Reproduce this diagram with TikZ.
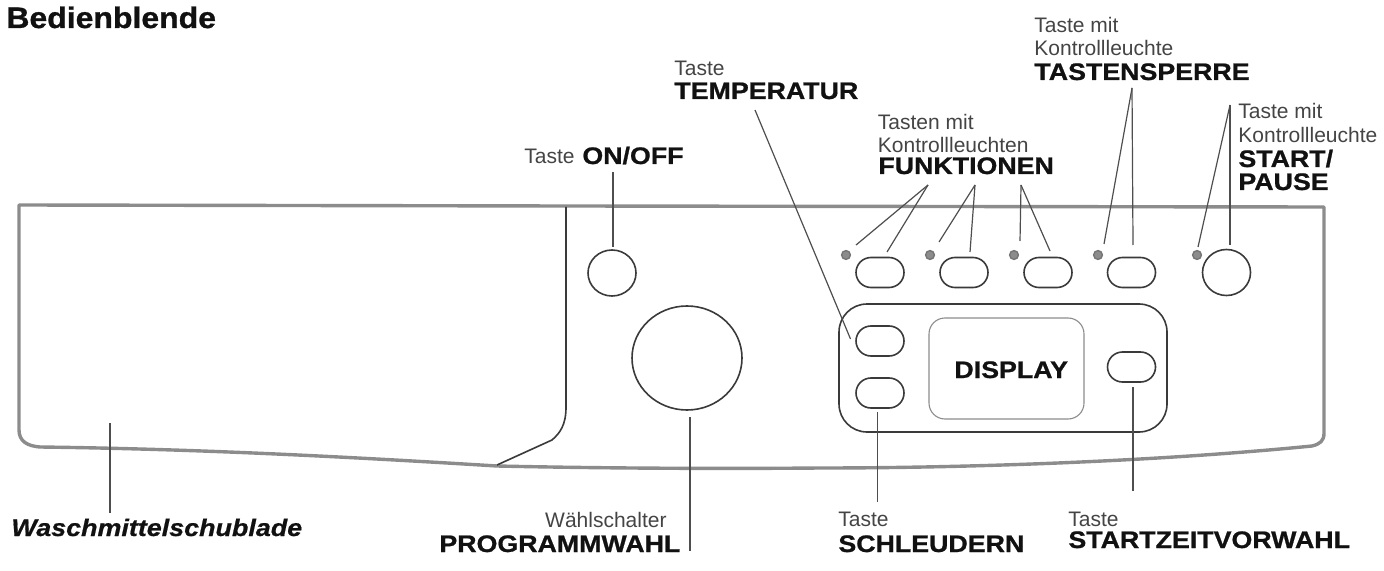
\documentclass[tikz,border=0pt]{standalone}
\usepackage{fontspec}
\usetikzlibrary{shapes.geometric,shapes.misc}
\setmainfont{Liberation Sans}
\newfontfamily\heavyfont[FakeStretch=1.12,FakeBold=0.9]{Liberation Sans Bold}
\newfontfamily\titlefont[FakeStretch=1.08,FakeBold=0.9]{Liberation Sans Bold}
\newfontfamily\heavyitfont[FakeStretch=1.12,FakeBold=0.7]{Liberation Sans Bold Italic}
\definecolor{framegray}{HTML}{8C8C8C}
\definecolor{linedark}{HTML}{3A3A3A}
\definecolor{textlight}{HTML}{444444}
\definecolor{textdark}{HTML}{111111}
\tikzset{
  frameline/.style={draw=framegray,line width=1.7pt,line join=round},
  leader/.style={draw=linedark!90,line width=0.6pt},
  oval/.style={rounded rectangle,draw=linedark,line width=0.8pt,inner sep=0pt,minimum width=24pt,minimum height=15pt},
  knob/.style={ellipse,draw=linedark,line width=0.8pt,inner sep=0pt},
  lamp/.style={circle,draw=linedark!70,fill=framegray,line width=0.7pt,inner sep=0pt,minimum size=4.4pt},
  thin label/.style={anchor=base west,inner sep=0pt,text=textlight,font=\fontsize{10.5}{12}\selectfont},
  heavy label/.style={anchor=base west,inner sep=0pt,text=textdark,font=\heavyfont\fontsize{11.95}{14}\selectfont},
}
\begin{document}
\begin{tikzpicture}[x=0.5pt,y=-0.5pt]
\useasboundingbox (0,0) rectangle (1384,571);
% housing
\draw[frameline] (19,205) -- (566,206) -- (1324,207)
  -- (1324,433) .. controls (1324,441) and (1320,444) .. (1312,446)
  .. controls (1150,462) and (960,468) .. (820,468)
  .. controls (700,469) and (590,468) .. (497,466)
  .. controls (350,457) and (200,449) .. (40,447)
  .. controls (27,446) and (19,441) .. (19,430) -- cycle;
\draw[draw=linedark,line width=0.8pt] (566,207) -- (566,407)
  .. controls (566,425) and (560,433) .. (552,440) -- (497,465);
% controls
\node[knob,minimum width=24pt,minimum height=23pt] (onoff) at (612,273) {};
\node[knob,minimum width=55pt,minimum height=52pt] (prog) at (687,358) {};
\node[oval] (f1) at (880,272.5) {};
\node[oval] (f2) at (964,272.5) {};
\node[oval] (f3) at (1048,272.5) {};
\node[oval] (lock) at (1131.5,272.5) {};
\node[knob,minimum width=24pt,minimum height=23pt] (start) at (1226.5,272.5) {};
\node[lamp] (l1) at (846,255) {};
\node[lamp] (l2) at (930,255) {};
\node[lamp] (l3) at (1014,255) {};
\node[lamp] (l4) at (1098,255) {};
\node[lamp] (l5) at (1197,255) {};
\draw[draw=linedark,line width=0.8pt,rounded corners=14pt] (839,304) rectangle (1167,432);
\draw[draw=framegray,line width=0.55pt,rounded corners=8pt] (929,318) rectangle (1084,419);
\node[oval] (temp) at (880,341) {};
\node[oval] (spin) at (880,393) {};
\node[oval] (delay) at (1131.5,367) {};
% labels
\node[anchor=base west,inner sep=0pt,text=textdark,font=\titlefont\fontsize{14.8}{17}\selectfont] (title) at (6,28) {Bedienblende};
\node[thin label] (t1) at (674,76) {Taste};
\node[heavy label] (t2) at (674,99) {TEMPERATUR};
\node[thin label] (t3) at (524,164) {Taste};
\node[heavy label] (t4) at (582,164) {ON/OFF};
\node[thin label] (t5) at (877.5,130) {Tasten mit};
\node[thin label] (t6) at (877.5,153) {Kontrollleuchten};
\node[heavy label] (t7) at (878,174) {FUNKTIONEN};
\node[thin label] (t8) at (1034,33) {Taste mit};
\node[thin label] (t9) at (1034,56) {Kontrollleuchte};
\node[heavy label] (t10) at (1034,80) {TASTENSPERRE};
\node[thin label] (t11) at (1238,119) {Taste mit};
\node[thin label] (t12) at (1238,143) {Kontrollleuchte};
\node[heavy label] (t13) at (1238,167) {START/};
\node[heavy label] (t14) at (1238,190) {PAUSE};
\node[thin label] (t15) at (838,526) {Taste};
\node[heavy label] (t16) at (838,552) {SCHLEUDERN};
\node[thin label] (t17) at (1068,526) {Taste};
\node[heavy label] (t18) at (1068,548) {STARTZEITVORWAHL};
\node[heavy label] (t19) at (954,378) {DISPLAY};
\node[thin label,anchor=base east] (t20) at (667,527) {Wählschalter};
\node[heavy label] (t21) at (439,552) {PROGRAMMWAHL};
\node[anchor=base west,inner sep=0pt,text=textdark,font=\heavyitfont\fontsize{12}{14}\selectfont] (t22) at (11,536) {Waschmittelschublade};
% leader ends
\coordinate (aF1) at (928,185); \coordinate (aF2) at (975,185); \coordinate (aF3) at (1021,185);
\coordinate (aLock) at (1132,88); \coordinate (aStart) at (1230,105); \coordinate (aTemp) at (755,110);
\draw[leader] (aF1) -- (856,245); \draw[leader] (aF1) -- (887,252);
\draw[leader] (aF2) -- (939,242); \draw[leader] (aF2) -- (970,252);
\draw[leader] (aF3) -- (1020,241); \draw[leader] (aF3) -- (1050,251);
\draw[leader] (aLock) -- (1104,244); \draw[leader] (aLock) -- (1133,245);
\draw[leader] (aStart) -- (1198,247); \draw[leader] (aStart) -- (1230,245);
\draw[leader] (aTemp) -- (850.5,339);
\coordinate (aOn) at (613,172); \draw[leader] (aOn) -- (613,247);
\coordinate (aProg) at (690,417); \draw[leader] (aProg) -- (690,551);
\coordinate (aWasch) at (110,423); \draw[leader] (aWasch) -- (110,513);
\coordinate (aSpin) at (877.5,412); \draw[leader] (aSpin) -- (877.5,502);
\coordinate (aDelay) at (1133,387); \draw[leader] (aDelay) -- (1133,491);
\end{tikzpicture}
\end{document}
